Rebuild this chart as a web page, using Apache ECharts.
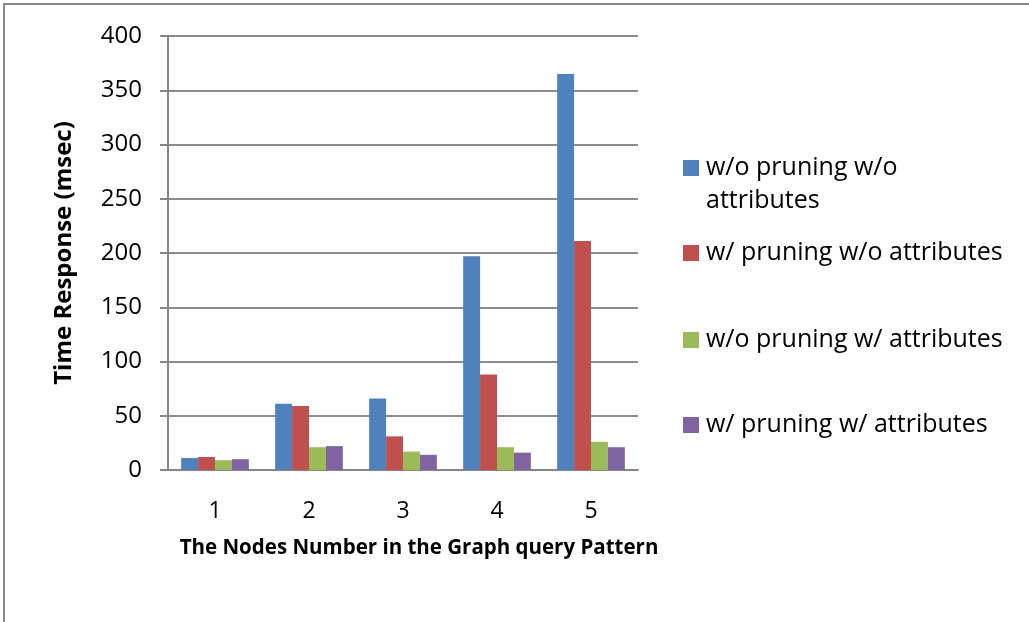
<!DOCTYPE html>
<html>
<head>
<meta charset="utf-8">
<script src="https://cdn.jsdelivr.net/npm/echarts@6/dist/echarts.min.js"></script>
<style>html,body{margin:0;padding:0;background:#fff;}#c{width:1029px;height:622px;}</style>
</head>
<body>
<div id="c"></div>
<script>
var categories = ['1', '2', '3', '4', '5'];
var seriesNames = ['w/o pruning w/o attributes', 'w/ pruning w/o attributes', 'w/o pruning w/ attributes', 'w/ pruning w/ attributes'];
var woPruningWoAttr = [11, 61, 66, 197, 365];
var wPruningWoAttr = [12, 59, 31, 88, 211];
var woPruningWAttr = [9, 21, 17, 21, 26];
var wPruningWAttr = [10, 22, 14, 16, 21];
var yTicks = [0, 50, 100, 150, 200, 250, 300, 350, 400];

var colors = ['#4F81BD', '#C0504D', '#9BBB59', '#8064A2'];
var values = [woPruningWoAttr, wPruningWoAttr, woPruningWAttr, wPruningWAttr];
var font = '"Open Sans", sans-serif';
var legendCenters = [168, 253, 340, 425];
var legendFont = 25;

var chart = echarts.init(document.getElementById('c'));
var legends = seriesNames.map(function (n, i) {
  return {
    data: [n],
    left: 683,
    top: legendCenters[i] - 14,
    padding: 0,
    itemWidth: 16,
    itemHeight: 16,
    itemGap: 0,
    icon: 'rect',
    selectedMode: false,
    formatter: i === 0 ? function () { return 'w/o pruning w/o'; } : undefined,
    textStyle: { fontFamily: font, fontSize: legendFont, color: '#000', lineHeight: 28, padding: [0, 0, 0, 2] }
  };
});

chart.setOption({
  animation: false,
  color: colors,
  graphic: [
    { type: 'rect', shape: { x: 4, y: 4, width: 1040, height: 640 }, style: { fill: 'none', stroke: '#8a8a8a', lineWidth: 2 }, z: -10 },
    { type: 'text', left: 706, top: 201 - 14, style: { text: 'attributes', font: legendFont + 'px ' + font, fill: '#000', lineHeight: 28 } }
  ],
  legend: legends,
  grid: { left: 168, right: 391, top: 36, bottom: 152, containLabel: false },
  xAxis: {
    type: 'category',
    data: categories,
    name: 'The Nodes Number in the Graph query Pattern',
    nameLocation: 'middle',
    nameGap: 68,
    nameTextStyle: { fontFamily: font, fontSize: 20.5, fontWeight: 'bold', color: '#000', padding: [0, 0, 0, 32] },
    axisLine: { lineStyle: { color: '#868686', width: 2 } },
    axisTick: { length: 8, lineStyle: { color: '#868686', width: 2 } },
    axisLabel: { fontFamily: font, fontSize: 23, color: '#000', margin: 30 }
  },
  yAxis: {
    type: 'value',
    min: 0, max: 400, interval: 50,
    name: 'Time Response (msec)',
    nameLocation: 'middle',
    nameGap: 92,
    nameTextStyle: { fontFamily: font, fontSize: 24, fontWeight: 'bold', color: '#000' },
    axisLine: { show: true, lineStyle: { color: '#868686', width: 2 } },
    axisTick: { show: true, length: 8, lineStyle: { color: '#868686', width: 2 } },
    axisLabel: { fontFamily: font, fontSize: 24, color: '#000', margin: 26,
      formatter: function (v) { return yTicks.indexOf(v) >= 0 ? String(v) : ''; } },
    splitLine: { lineStyle: { color: '#8c8c8c', width: 2 } }
  },
  series: seriesNames.map(function (n, i) {
    return {
      name: n,
      type: 'bar',
      data: values[i],
      barGap: '0%',
      barCategoryGap: '28%',
      itemStyle: { color: colors[i] }
    };
  })
});
</script>
</body>
</html>
